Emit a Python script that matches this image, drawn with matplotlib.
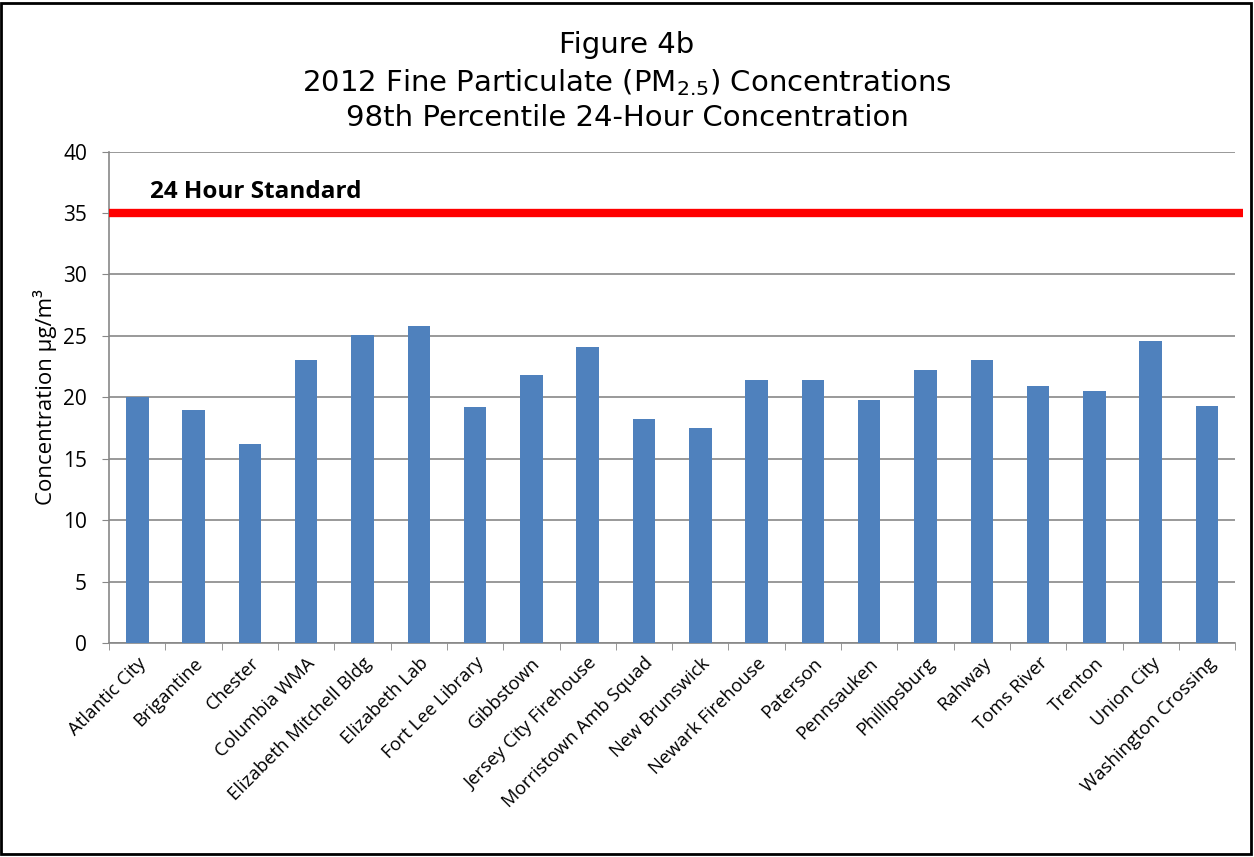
import numpy as np
import matplotlib
matplotlib.use("Agg")
import matplotlib.pyplot as plt
from matplotlib.patches import Rectangle

sites = ["Atlantic City", "Brigantine", "Chester", "Columbia WMA",
         "Elizabeth Mitchell Bldg", "Elizabeth Lab", "Fort Lee Library",
         "Gibbstown", "Jersey City Firehouse", "Morristown Amb Squad",
         "New Brunswick", "Newark Firehouse", "Paterson", "Pennsauken",
         "Phillipsburg", "Rahway", "Toms River", "Trenton", "Union City",
         "Washington Crossing"]
conc = [20.0, 19.0, 16.2, 23.0, 25.1, 25.8, 19.2, 21.8, 24.1, 18.2,
        17.5, 21.4, 21.4, 19.8, 22.2, 23.0, 20.9, 20.5, 24.6, 19.3]
standard = 35
yticks = [0, 5, 10, 15, 20, 25, 30, 35, 40]

plt.rcParams['mathtext.default'] = 'regular'
body = 'Open Sans'
fig = plt.figure(figsize=(12.54, 8.57), dpi=100)
ax = fig.add_axes([0.087, 0.2497, 0.898, 0.5735])

x = np.arange(len(sites))
ax.bar(x, conc, width=0.4, color='#4f81bd', zorder=3)
ax.set_xlim(-0.5, len(sites) - 0.5)
ax.set_ylim(0, 40)

# gridlines
for v in yticks:
    ax.axhline(v, color='#878787', lw=1.2, zorder=1)

# standard line
ax.plot([-0.5, len(sites) - 0.36], [standard, standard], color='#ff0000',
        lw=6, clip_on=False, zorder=4, solid_capstyle='butt')
ax.text(0.23, 36.7, "24 Hour Standard", fontsize=17.5, fontweight='bold',
        family=body, va='center', ha='left')

ax.set_yticks(yticks)
ax.set_yticklabels([str(v) for v in yticks], fontsize=15, family=body)
ax.set_xticks(x)
ax.set_xticklabels(sites, rotation=45, ha='right', rotation_mode='anchor',
                   fontsize=13.3, family=body)
ax.set_xticks(np.arange(-0.5, len(sites), 1), minor=True)
ax.tick_params(axis='x', which='major', length=0, pad=8)
ax.tick_params(axis='x', which='minor', length=5, color='#878787', direction='out')
ax.tick_params(axis='y', length=5, color='#878787', direction='out', pad=11)

for s in ['top', 'right']:
    ax.spines[s].set_visible(False)
ax.spines['left'].set_color('#878787')
ax.spines['bottom'].set_color('#878787')
ax.spines['left'].set_linewidth(1.2)
ax.spines['bottom'].set_linewidth(1.2)

ax.set_ylabel("Concentration µg/m³", fontsize=16, family=body, labelpad=4)

fig.text(0.5, 0.9475, "Figure 4b", ha='center', va='center', fontsize=21)
fig.text(0.5, 0.904, "2012 Fine Particulate (PM$_{2.5}$) Concentrations",
         ha='center', va='center', fontsize=21)
fig.text(0.5, 0.8623, "98th Percentile 24-Hour Concentration",
         ha='center', va='center', fontsize=21)

fig.patches.append(Rectangle((0.001, 0.003), 0.997, 0.993, transform=fig.transFigure,
                             fill=False, edgecolor='black', lw=2))

fig.savefig("out.png", dpi=100)
